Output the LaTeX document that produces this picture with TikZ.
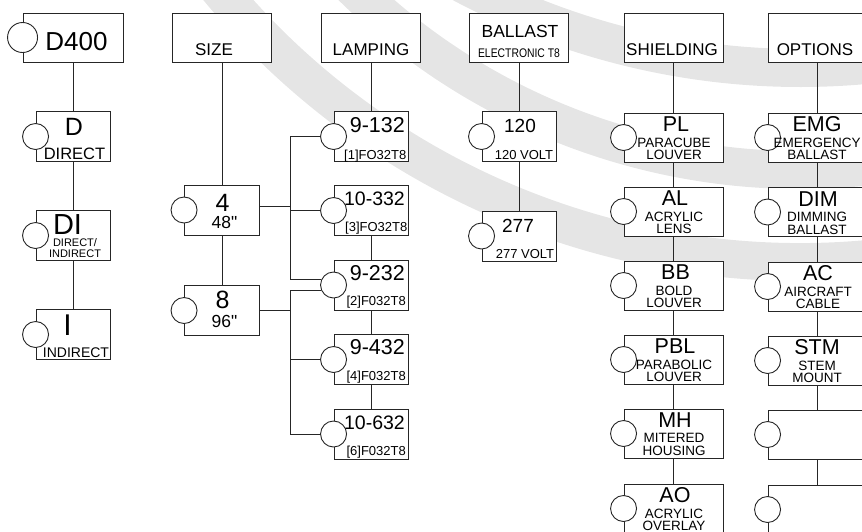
\documentclass[tikz,border=0pt]{standalone}
\usepackage{fontspec}
\setmainfont{Liberation Sans}[Ligatures=TeXOff]
\tikzset{
  box/.style={draw=black!85, fill=white, line width=0.9pt, inner sep=0,
    minimum width=74pt, minimum height=50pt},
  headbox/.style={box, minimum width=99pt, minimum height=49pt},
  widebox/.style={box, minimum width=99pt, minimum height=49pt},
  sel/.style={draw=black!85, fill=white, circle, line width=0.9pt, inner sep=0,
    minimum size=26pt},
  head/.style={inner sep=0, anchor=base, font=\fontsize{17}{17}\selectfont},
  code/.style={inner sep=0, anchor=base, font=\fontsize{21.5}{21.5}\selectfont},
  note/.style={inner sep=0, anchor=north, align=center,
    font=\fontsize{13.5}{12.5}\selectfont},
  part/.style={inner sep=0, anchor=base east, font=\fontsize{13}{13}\selectfont},
  link/.style={draw=black!85, line width=0.9pt},
  band/.style={line width=38pt, black!10},
}
\begin{document}
\begin{tikzpicture}[x=1pt,y=-1pt]
      \useasboundingbox (0,0) rectangle (862,531);
      \clip (0,0) rectangle (862,531);

      \draw[band] (800,-493) ++(150:755) arc[start angle=150, end angle=75, radius=755];
      \draw[band] (800,-469) ++(145:639) arc[start angle=145, end angle=75, radius=639];
      \draw[band] (800,-650) ++(125:718) arc[start angle=125, end angle=75, radius=718];

      \node[box, minimum width=100pt, minimum height=49pt](D400) at (73, 37.5) {};
      \node[sel, minimum size=30pt](D400c) at (D400.west) {};
      \node[code, font=\fontsize{26}{26}\selectfont](D400t) at (76.5, 50) {D400};

      \node[box](D) at (73, 136.5) {};
      \node[sel](Dc) at (D.west) {};
      \node[code, font=\fontsize{25}{25}\selectfont](Dt) at (74, 135) {D};
      \node[note, anchor=base, font=\fontsize{16.5}{16.5}\selectfont](Dn) at (74.5, 159) {DIRECT};

      \node[box](DI) at (73, 235.5) {};
      \node[sel](DIc) at (DI.west) {};
      \node[code, font=\fontsize{29}{29}\selectfont](DIt) at (67.5, 234.5) {DI};
      \node[note, font=\fontsize{11}{11}\selectfont](DIn) at (75, 238.5) {DIRECT/\\INDIRECT};

      \node[box](I) at (73, 334.5) {};
      \node[sel](Ic) at (I.west) {};
      \node[code, font=\fontsize{30}{30}\selectfont](It) at (67.5, 335) {I};
      \node[note, anchor=base, font=\fontsize{14}{14}\selectfont](In) at (76, 357) {INDIRECT};

      \draw[link] (D400) -- (D);
      \draw[link] (D) -- (DI);
      \draw[link] (DI) -- (I);

      \node[headbox](size) at (222, 37.5) {};
      \node[head](sizet) at (214, 55) {SIZE};
      \node[box, minimum width=75pt](four) at (222, 210) {};
      \node[sel](fourc) at (four.west) {};
      \node[code, font=\fontsize{25}{25}\selectfont](fourt) at (222.5, 211) {4};
      \node[code, font=\fontsize{17.5}{17.5}\selectfont](fourn) at (224.5, 228) {48"};
      \node[box, minimum width=75pt](eight) at (222, 310.5) {};
      \node[sel](eightc) at (eight.west) {};
      \node[code, font=\fontsize{25}{25}\selectfont](eightt) at (222.5, 308) {8};
      \node[code, font=\fontsize{17.5}{17.5}\selectfont](eightn) at (224.5, 327) {96"};

      \draw[link] (size) -- (four);
      \draw[link] (four) -- (eight);

      \node[headbox](lamping) at (371, 37.5) {};
      \node[head](lampingt) at (371, 55) {LAMPING};
      \node[box](L132) at (371, 136.5) {};
      \node[sel](L132c) at (L132.west) {};
      \node[code, anchor=base east](L132t) at (405, 132) {9-132};
      \node[part](L132n) at (406.5, 159) {[1]FO32T8};
      \node[box](L332) at (371, 210.5) {};
      \node[sel](L332c) at (L332.west) {};
      \node[code, anchor=base east, font=\fontsize{19.5}{19.5}\selectfont](L332t) at (405, 205) {10-332};
      \node[part](L332n) at (407.5, 231) {[3]FO32T8};
      \node[box](L232) at (371, 285) {};
      \node[sel](L232c) at (L232.west) {};
      \node[code, anchor=base east](L232t) at (405, 280) {9-232};
      \node[part](L232n) at (406, 305.5) {[2]F032T8};
      \node[box](L432) at (371, 359.5) {};
      \node[sel](L432c) at (L432.west) {};
      \node[code, anchor=base east](L432t) at (405, 354.5) {9-432};
      \node[part](L432n) at (406, 380) {[4]F032T8};
      \node[box](L632) at (371, 434) {};
      \node[sel](L632c) at (L632.west) {};
      \node[code, anchor=base east, font=\fontsize{19.5}{19.5}\selectfont](L632t) at (405, 429) {10-632};
      \node[part](L632n) at (406, 455) {[6]F032T8};

      \draw[link] (lamping) -- (L132);
      \draw[link] (L332) -- (L232);
      \draw[link] (L232) -- (L432);
      \draw[link] (L432) -- (L632);

      \coordinate (bus) at (290, 210);
      \draw[link] (L132c.west) -- (L132c.west -| bus) -- (L232c.157 -| bus) -- (L232c.157);
      \draw[link] ([yshift=4pt]four.east) -- ([yshift=4pt]four.east -| bus);
      \draw[link] (L332c.west) -- (L332c.west -| bus);
      \draw[link] (L232c.203) -- (L232c.203 -| bus) -- (L632c.west -| bus) -- (L632c.west);
      \draw[link] (eight.east) -- (eight.east -| bus);
      \draw[link] (L432c.west) -- (L432c.west -| bus);

      \node[headbox](ballast) at (519, 37.5) {};
      \node[head, font=\fontsize{17.5}{17.5}\selectfont](ballastt) at (520, 37) {BALLAST};
      \node[head, font=\fontsize{12.5}{12.5}\selectfont](ballastn) at (519, 57) {\scalebox{0.83}[1]{ELECTRONIC T8}};
      \node[box](B120) at (519, 136.5) {};
      \node[sel](B120c) at (B120.west) {};
      \node[code, font=\fontsize{19}{19}\selectfont](B120t) at (520, 132) {120};
      \node[part, anchor=base](B120n) at (524, 159) {120 VOLT};
      \node[box](B277) at (519, 236) {};
      \node[sel](B277c) at (B277.west) {};
      \node[code, font=\fontsize{19}{19}\selectfont](B277t) at (518, 232) {277};
      \node[part, anchor=base](B277n) at (525, 258) {277 VOLT};

      \draw[link] (ballast) -- (B120);
      \draw[link] (B120) -- (B277);

      \node[headbox](shield) at (673.5, 37.5) {};
      \node[head](shieldt) at (672, 55) {SHIELDING};
      \node[widebox](PL) at (673.5, 137.5) {};
      \node[sel](PLc) at (PL.west) {};
      \node[code](PLt) at (676, 131.5) {PL};
      \node[note](PLn) at (674, 137.5) {PARACUBE\\LOUVER};
      \node[widebox](AL) at (673.5, 211.5) {};
      \node[sel](ALc) at (AL.west) {};
      \node[code](ALt) at (675, 205.5) {AL};
      \node[note](ALn) at (674, 211.5) {ACRYLIC\\LENS};
      \node[widebox](BB) at (673.5, 285.5) {};
      \node[sel](BBc) at (BB.west) {};
      \node[code](BBt) at (675.5, 279.5) {BB};
      \node[note](BBn) at (674, 285.5) {BOLD\\LOUVER};
      \node[widebox](PBL) at (673.5, 359.5) {};
      \node[sel](PBLc) at (PBL.west) {};
      \node[code](PBLt) at (675, 353.5) {PBL};
      \node[note](PBLn) at (674, 359.5) {PARABOLIC\\LOUVER};
      \node[widebox](MH) at (673.5, 433.5) {};
      \node[sel](MHc) at (MH.west) {};
      \node[code](MHt) at (675, 427.5) {MH};
      \node[note](MHn) at (674, 433.5) {MITERED\\HOUSING};
      \node[widebox](AO) at (673.5, 508.5) {};
      \node[sel](AOc) at (AO.west) {};
      \node[code](AOt) at (675, 502.5) {AO};
      \node[note](AOn) at (674, 508.5) {ACRYLIC\\OVERLAY};

      \draw[link] (shield) -- (PL);
      \draw[link] (PL) -- (AL);
      \draw[link] (AL) -- (BB);
      \draw[link] (BB) -- (PBL);
      \draw[link] (PBL) -- (MH);
      \draw[link] (MH) -- (AO);

      \node[headbox](options) at (817.5, 37.5) {};
      \node[head](optionst) at (815, 55) {OPTIONS};
      \node[widebox](EMG) at (817.5, 137.5) {};
      \node[sel](EMGc) at (EMG.west) {};
      \node[code](EMGt) at (817, 131.5) {EMG};
      \node[note](EMGn) at (817, 137.5) {EMERGENCY\\BALLAST};
      \node[widebox](DIM) at (817.5, 212) {};
      \node[sel](DIMc) at (DIM.west) {};
      \node[code](DIMt) at (818, 206) {DIM};
      \node[note](DIMn) at (817, 212) {DIMMING\\BALLAST};
      \node[widebox](AC) at (817.5, 286.5) {};
      \node[sel](ACc) at (AC.west) {};
      \node[code](ACt) at (818, 280.5) {AC};
      \node[note](ACn) at (818, 286.5) {AIRCRAFT\\CABLE};
      \node[widebox](STM) at (817.5, 360.5) {};
      \node[sel](STMc) at (STM.west) {};
      \node[code](STMt) at (817, 354.5) {STM};
      \node[note](STMn) at (817, 360.5) {STEM\\MOUNT};
      \node[widebox](OP5) at (817.5, 434.5) {};
      \node[sel](OP5c) at (OP5.west) {};
      \node[widebox](OP6) at (817.5, 509.5) {};
      \node[sel](OP6c) at (OP6.west) {};

      \draw[link] (options) -- (EMG);
      \draw[link] (EMG) -- (DIM);
      \draw[link] (DIM) -- (AC);
      \draw[link] (AC) -- (STM);
      \draw[link] (STM) -- (OP5);
      \draw[link] (OP5) -- (OP6);
\end{tikzpicture}
\end{document}
